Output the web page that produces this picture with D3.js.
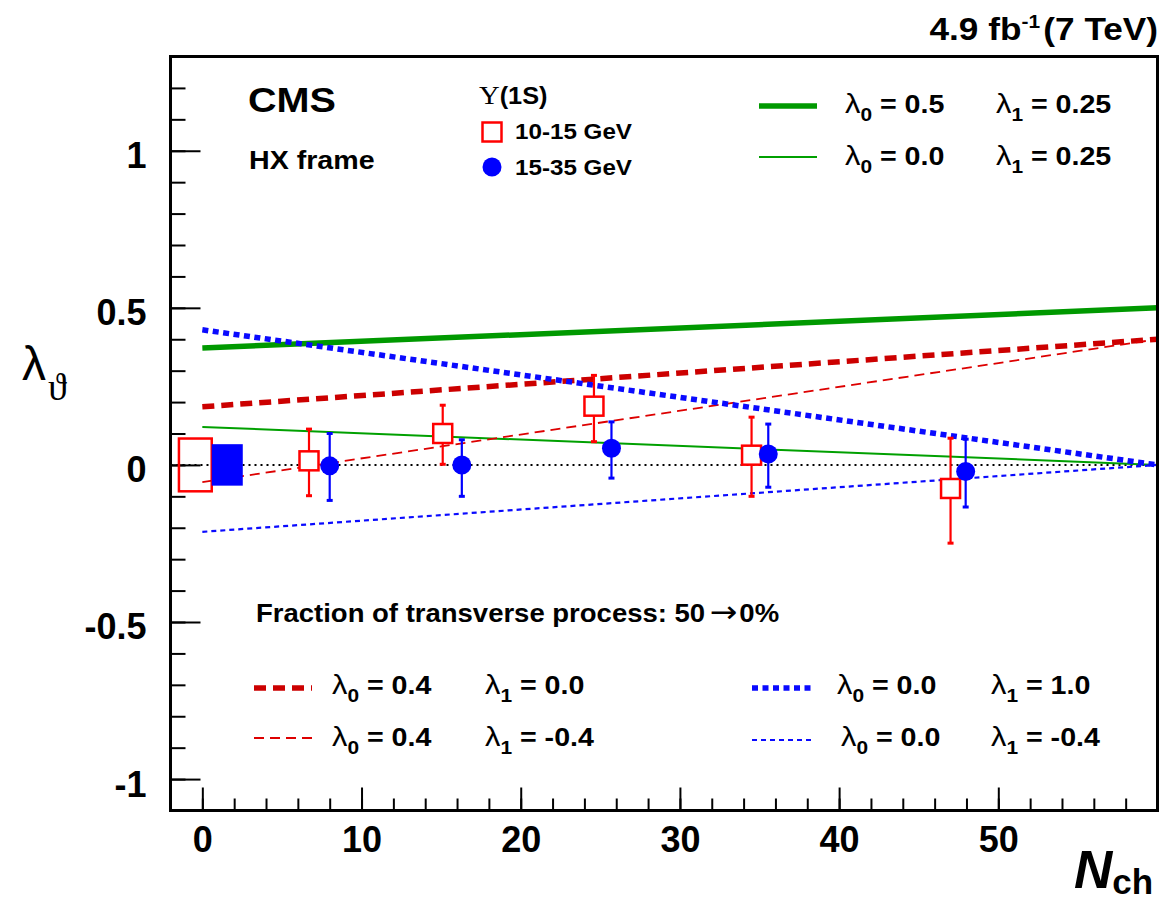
<!DOCTYPE html>
<html><head><meta charset="utf-8">
<script src="https://cdn.jsdelivr.net/npm/d3@7"></script>
<style>body{margin:0;background:#fff}</style>
</head><body>
<svg id="c" width="1165" height="900"></svg>
<script>
// ---------------- DATA ----------------
// Upsilon(1S), 10-15 GeV (open red squares)
const redNch   = [6.7, 15.1, 24.6, 34.5, 47.0];
const redLam   = [0.013, 0.100, 0.187, 0.031, -0.075];
const redHigh  = [0.114, 0.190, 0.285, 0.152, 0.085];
const redLow   = [-0.098, 0.002, 0.074, -0.100, -0.249];
// Upsilon(1S), 15-35 GeV (filled blue circles)
const blueNch  = [8.0, 16.3, 25.7, 35.55, 47.95];
const blueLam  = [-0.003, 0.000, 0.053, 0.035, -0.021];
const blueHigh = [0.100, 0.080, 0.137, 0.130, 0.082];
const blueLow  = [-0.113, -0.100, -0.042, -0.071, -0.134];
// global uncertainty boxes around zero (half heights)
const boxSeries = ["10-15 GeV", "15-35 GeV"];
const boxHalf   = [0.084, 0.066];
// model curves: lambda at Nch = 0 and at the right end (Nch = 60)
const modelLam0   = ["0.5", "0.0", "0.4", "0.4", "0.0", "0.0"];
const modelLam1   = ["0.25", "0.25", "0.0", "-0.4", "1.0", "-0.4"];
const modelStart  = [0.372, 0.121, 0.185, -0.055, 0.430, -0.213];
const modelEnd    = [0.500, 0.000, 0.400, 0.400, 0.000, 0.000];
const modelNchRange = [0, 60];
// axes
const xMajor = [0, 10, 20, 30, 40, 50];
const yMajor = [-1, -0.5, 0, 0.5, 1];
const yLabels = ["-1", "-0.5", "0", "0.5", "1"];

// ---------------- LAYOUT ----------------
const SANS = "'Liberation Sans', Arial, Helvetica, sans-serif";
const SERIF = "'Liberation Serif', 'DejaVu Serif', 'Times New Roman', serif";
const L = 170.5, R = 1157.5, T = 56.5, B = 810.5;
const svg = d3.select("#c");
const x = d3.scaleLinear().domain([-2, 60]).range([L, R]);
const y = d3.scaleLinear().domain([-1.1, 1.3]).range([B, T]);

svg.append("defs").append("clipPath").attr("id", "pa")
  .append("rect").attr("x", L).attr("y", T).attr("width", R - L).attr("height", B - T);

const styles = [
  {c: "#009900", w: 5.5, d: null},
  {c: "#00a000", w: 2, d: null},
  {c: "#cc0000", w: 5.5, d: "12,7"},
  {c: "#dd0000", w: 1.8, d: "10,6"},
  {c: "#0a0aff", w: 5.5, d: "6,4.5"},
  {c: "#0a0aff", w: 2.2, d: "5,4"}
];

function label(parent, px, py, anchor, sx, parts) {
  const g = parent.append("g").attr("transform", `translate(${px},${py}) scale(${sx},1)`);
  const t = g.append("text").attr("text-anchor", anchor).attr("font-family", SANS)
    .attr("font-weight", "bold").attr("fill", "#000");
  parts.forEach(p => {
    const ts = t.append("tspan").text(p.t).attr("font-size", p.s);
    if (p.dy) ts.attr("dy", p.dy);
    if (p.dx) ts.attr("dx", p.dx);
    if (p.f) ts.attr("font-family", p.f);
    if (p.st) ts.attr("font-style", p.st);
    if (p.w) ts.attr("font-weight", p.w);
  });
  return g;
}

// ---------------- AXES ----------------
const yMinor = d3.range(-11, 14).map(v => v / 10);
const xMinor = d3.range(-2, 60, 2);

const gyMin = svg.append("g").attr("transform", `translate(${L},0)`)
  .call(d3.axisLeft(y).tickValues(yMinor).tickSize(-15).tickFormat(""));
const gyMaj = svg.append("g").attr("transform", `translate(${L},0)`)
  .call(d3.axisLeft(y).tickValues(yMajor).tickSize(-30).tickPadding(24)
    .tickFormat((d, i) => yLabels[i]));
const gxMin = svg.append("g").attr("transform", `translate(0,${B})`)
  .call(d3.axisBottom(x).tickValues(xMinor).tickSize(-12).tickFormat(""));
const gxMaj = svg.append("g").attr("transform", `translate(0,${B})`)
  .call(d3.axisBottom(x).tickValues(xMajor).tickSize(-23).tickPadding(16).tickFormat(d3.format("d")));
[gyMin, gyMaj, gxMin, gxMaj].forEach(g => {
  g.select(".domain").remove();
  g.selectAll(".tick line").attr("stroke", "#000").attr("stroke-width", 2);
  g.selectAll("text").attr("font-family", SANS).attr("font-weight", "bold")
    .attr("font-size", 36).attr("fill", "#000");
});
gyMaj.selectAll("text").attr("dy", "0.47em");

// zero reference line
svg.append("line").attr("x1", L).attr("x2", R).attr("y1", y(0)).attr("y2", y(0))
  .attr("stroke", "#000").attr("stroke-width", 2).attr("stroke-dasharray", "2,4");

// ---------------- MODEL LINES ----------------
const plot = svg.append("g").attr("clip-path", "url(#pa)");
const lineGen = d3.line().x(d => x(d[0])).y(d => y(d[1]));
modelStart.forEach((s, i) => {
  const st = styles[i];
  plot.append("path")
    .datum([[modelNchRange[0], s], [modelNchRange[1], modelEnd[i]]])
    .attr("d", lineGen).attr("fill", "none").attr("stroke", st.c)
    .attr("stroke-width", st.w).attr("stroke-dasharray", st.d);
});

// ---------------- GLOBAL UNCERTAINTY BOXES ----------------
const boxX = [[-1.47, 0.59], [0.59, 2.54]];
boxHalf.forEach((h, i) => {
  const r = plot.append("rect")
    .attr("x", x(boxX[i][0])).attr("width", x(boxX[i][1]) - x(boxX[i][0]))
    .attr("y", y(h)).attr("height", y(-h) - y(h));
  if (i === 0) r.attr("fill", "none").attr("stroke", "#ff0000").attr("stroke-width", 2.5);
  else r.attr("fill", "#0000ff");
});

// ---------------- DATA POINTS ----------------
function errBars(nch, hi, lo, col) {
  nch.forEach((n, i) => {
    const cx = x(n);
    plot.append("line").attr("x1", cx).attr("x2", cx).attr("y1", y(hi[i])).attr("y2", y(lo[i]))
      .attr("stroke", col).attr("stroke-width", 2.2);
    [hi[i], lo[i]].forEach(v => plot.append("line").attr("x1", cx - 3).attr("x2", cx + 3)
      .attr("y1", y(v)).attr("y2", y(v)).attr("stroke", col).attr("stroke-width", 3));
  });
}
errBars(redNch, redHigh, redLow, "#ff0000");
errBars(blueNch, blueHigh, blueLow, "#0000ff");
plot.selectAll("rect.red").data(redNch).enter().append("rect").attr("class", "red")
  .attr("x", d => x(d) - 9.5).attr("y", (d, i) => y(redLam[i]) - 9.5)
  .attr("width", 19).attr("height", 19)
  .attr("fill", "#fff").attr("stroke", "#ff0000").attr("stroke-width", 2.5);
plot.selectAll("circle.blue").data(blueNch).enter().append("circle").attr("class", "blue")
  .attr("cx", d => x(d)).attr("cy", (d, i) => y(blueLam[i])).attr("r", 9.5).attr("fill", "#0000ff");

// ---------------- FRAME ----------------
svg.append("rect").attr("x", L).attr("y", T).attr("width", R - L).attr("height", B - T)
  .attr("fill", "none").attr("stroke", "#000").attr("stroke-width", 3);

// ---------------- TEXTS ----------------
const SX = 1.1;
label(svg, 1158, 40, "end", SX, [
  {t: "4.9 fb", s: 32}, {t: "-1", s: 19, dy: -12}, {t: "(7 TeV)", s: 32, dy: 12, dx: 3}]);
label(svg, 248, 112, "start", SX, [{t: "CMS", s: 36}]);
label(svg, 249, 169, "start", SX, [{t: "HX frame", s: 26}]);
label(svg, 479, 104, "start", SX, [{t: "\u03A5", s: 26, f: SERIF, w: "normal"}, {t: "(1S)", s: 23}]);
svg.append("rect").attr("x", 482.5).attr("y", 122.5).attr("width", 19).attr("height", 19)
  .attr("fill", "#fff").attr("stroke", "#ff0000").attr("stroke-width", 2.5);
label(svg, 515, 139, "start", SX, [{t: boxSeries[0], s: 22}]);
svg.append("circle").attr("cx", 492).attr("cy", 167).attr("r", 9.5).attr("fill", "#0000ff");
label(svg, 515, 175, "start", SX, [{t: boxSeries[1], s: 22}]);
label(svg, 256, 622, "start", SX, [{t: "Fraction of transverse process: 50", s: 25},
  {t: "\u2192", s: 30, w: "normal", f: "'DejaVu Sans', sans-serif", dx: 4}, {t: "0%", s: 25, dx: 2}]);

// legends for model lines
const legPos = [
  {x0: 759, x1: 817, ly: 106, tx: 845, t2: 996, by: 113},
  {x0: 759, x1: 817, ly: 157, tx: 845, t2: 996, by: 165},
  {x0: 254, x1: 312, ly: 688, tx: 332, t2: 485, by: 694},
  {x0: 254, x1: 312, ly: 738, tx: 332, t2: 485, by: 746},
  {x0: 752, x1: 815, ly: 688, tx: 837, t2: 991, by: 694},
  {x0: 752, x1: 815, ly: 740, tx: 841, t2: 991, by: 746}
];
modelLam0.forEach((l0, i) => {
  const p = legPos[i], st = styles[i];
  svg.append("line").attr("x1", p.x0).attr("x2", p.x1).attr("y1", p.ly).attr("y2", p.ly)
    .attr("stroke", st.c).attr("stroke-width", st.w).attr("stroke-dasharray", st.d);
  label(svg, p.tx, p.by, "start", SX, [{t: "\u03BB", s: 28, w: "normal"},
    {t: "0", s: 19, dy: 8}, {t: " = " + l0, s: 26, dy: -8}]);
  label(svg, p.t2, p.by, "start", SX, [{t: "\u03BB", s: 28, w: "normal"},
    {t: "1", s: 19, dy: 8}, {t: " = " + modelLam1[i], s: 26, dy: -8}]);
});

// axis titles
label(svg, 22, 380, "start", 1, [{t: "\u03BB", s: 48, w: "normal"},
  {t: "\u03D1", s: 38, f: SERIF, w: "normal", dy: 20, dx: 2}]);
label(svg, 1074, 888, "start", 1, [{t: "N", s: 53, st: "italic"}, {t: "ch", s: 35, dy: 6}]);
</script>
</body></html>
